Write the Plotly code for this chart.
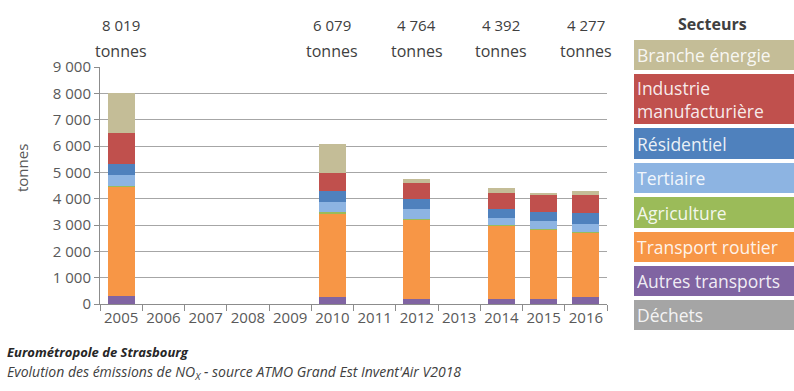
import plotly.graph_objects as go

years = ["2005", "2006", "2007", "2008", "2009", "2010", "2011", "2012", "2013", "2014", "2015", "2016"]

# Values per sector (tonnes), None where no data
dechets      = [0,    None, None, None, None, 0,    None, 0,    None, 0,    0,    0]
autres_tr    = [310,  None, None, None, None, 250,  None, 200,  None, 200,  200,  250]
transport    = [4140, None, None, None, None, 3200, None, 3010, None, 2780, 2630, 2460]
agriculture  = [30,   None, None, None, None, 60,   None, 20,   None, 20,   20,   20]
tertiaire    = [420,  None, None, None, None, 380,  None, 370,  None, 250,  320,  310]
residentiel  = [420,  None, None, None, None, 410,  None, 380,  None, 350,  330,  430]
industrie    = [1160, None, None, None, None, 690,  None, 610,  None, 630,  640,  660]
energie      = [1539, None, None, None, None, 1089, None, 174,  None, 162,  90,   147]

sector_names = ["Déchets", "Autres transports", "Transport routier", "Agriculture",
                "Tertiaire", "Résidentiel", "Industrie manufacturière", "Branche énergie"]
sector_values = [dechets, autres_tr, transport, agriculture, tertiaire, residentiel, industrie, energie]
sector_colors = ["#A5A5A5", "#8064A2", "#F79646", "#9BBB59", "#8DB4E2", "#4F81BD", "#C0504D", "#C4BD97"]

# legend labels (top to bottom) as displayed
legend_labels = ["Branche énergie", "Industrie<br>manufacturière", "Résidentiel", "Tertiaire",
                 "Agriculture", "Transport routier", "Autres transports", "Déchets"]
legend_colors = ["#C4BD97", "#C0504D", "#4F81BD", "#8DB4E2", "#9BBB59", "#F79646", "#8064A2", "#A5A5A5"]

total_label_years = ["2005", "2010", "2012", "2014", "2016"]
total_labels = ["8 019", "6 079", "4 764", "4 392", "4 277"]

W, H = 794, 391
L, R, T, B = 100, 607, 67, 304

def px(x):
    return (x - L) / (R - L)

def py(y):
    return (B - y) / (B - T)

fig = go.Figure()
for name, vals, col in zip(sector_names, sector_values, sector_colors):
    fig.add_trace(go.Bar(x=years, y=vals, name=name, marker=dict(color=col, line=dict(width=0)),
                         showlegend=False))

font_main = "Open Sans, sans-serif"
txt = "#595959"

annotations = []
for yr, lab in zip(total_label_years, total_labels):
    idx = years.index(yr)
    annotations.append(dict(x=idx, xref="x", y=py(25), yref="paper", text=lab, showarrow=False,
                            font=dict(family=font_main, size=15, color="#404040"),
                            xanchor="center", yanchor="middle"))
    annotations.append(dict(x=idx, xref="x", y=py(51), yref="paper", text="tonnes", showarrow=False,
                            font=dict(family=font_main, size=16, color="#404040"),
                            xanchor="center", yanchor="middle"))

# y-axis title
annotations.append(dict(x=px(22), y=py(168), xref="paper", yref="paper", text="tonnes",
                        textangle=-90, showarrow=False, xanchor="center", yanchor="middle",
                        font=dict(family=font_main, size=15, color=txt)))

# Legend (custom boxes)
shapes = []
boxes = [(40, 70), (74, 124), (128, 159), (163, 193), (197, 228), (232, 262), (266, 296), (300, 330)]
annotations.append(dict(x=px(712), y=py(24), xref="paper", yref="paper", text="<b>Secteurs</b>",
                        showarrow=False, font=dict(family=font_main, size=16, color="#404040"),
                        xanchor="center", yanchor="middle"))
for (y0, y1), lab, col in zip(boxes, legend_labels, legend_colors):
    shapes.append(dict(type="rect", xref="paper", yref="paper", x0=px(634), x1=px(794),
                       y0=py(y1), y1=py(y0), fillcolor=col, line=dict(width=0), layer="above"))
    annotations.append(dict(x=px(635), y=py((y0 + y1) / 2), xref="paper", yref="paper", text=lab,
                            showarrow=False, align="left", xanchor="left", yanchor="middle",
                            font=dict(family=font_main, size=17.5, color="rgba(255,255,255,0.9)")))

# bottom caption
annotations.append(dict(x=px(5), y=py(352), xref="paper", yref="paper",
                        text="<b><i>Eurométropole de Strasbourg</i></b>", showarrow=False,
                        xanchor="left", yanchor="middle",
                        font=dict(family=font_main, size=13, color="#262626")))
annotations.append(dict(x=px(5), y=py(372), xref="paper", yref="paper",
                        text="<i>Evolution des émissions de NO<sub>X</sub> - source ATMO Grand Est Invent'Air V2018</i>",
                        showarrow=False, xanchor="left", yanchor="middle",
                        font=dict(family=font_main, size=14, color="#404040")))

fig.update_layout(
    width=W, height=H,
    margin=dict(l=L, r=W - R, t=T, b=H - B),
    barmode="stack", bargap=0.36,
    plot_bgcolor="white", paper_bgcolor="white",
    separators=", ",
    font=dict(family=font_main, color=txt),
    annotations=annotations, shapes=shapes,
    xaxis=dict(type="category", categoryorder="array", categoryarray=years,
               range=[-0.5, len(years) - 0.5], tickangle=0,
               showline=True, linecolor="#8C8C8C", linewidth=1,
               ticks="outside", tickson="boundaries", ticklen=6, tickcolor="#8C8C8C",
               tickfont=dict(family=font_main, size=15, color=txt), showgrid=False),
    yaxis=dict(range=[0, 9000], dtick=1000, tickformat=",d",
               showline=True, linecolor="#8C8C8C", linewidth=1,
               ticks="outside", ticklen=5, tickcolor="#8C8C8C",
               gridcolor="#A6A6A6", gridwidth=1, zeroline=False,
               tickfont=dict(family=font_main, size=15, color=txt)),
)

fig.write_html("out.html", config={"displayModeBar": False},
               post_script="document.body.style.margin='0';document.body.style.overflow='hidden';")
